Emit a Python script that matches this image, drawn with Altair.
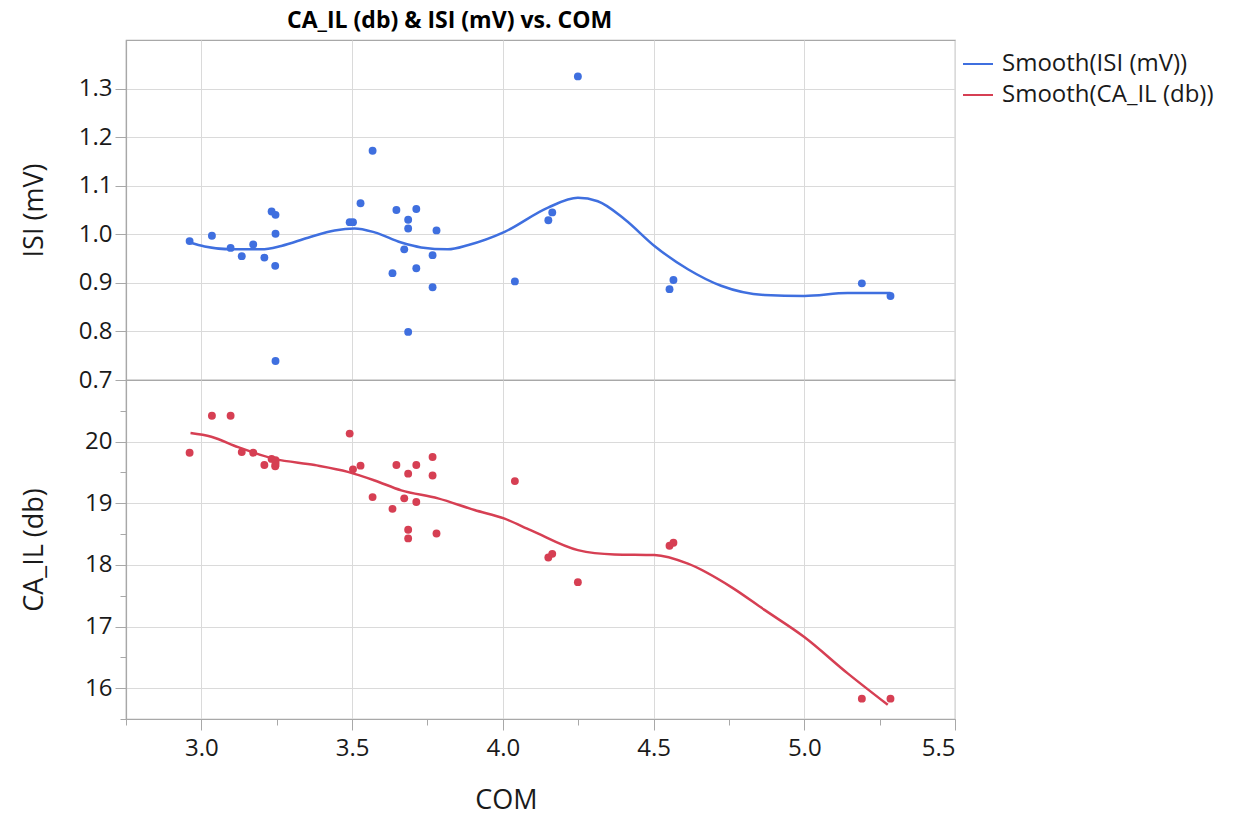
import altair as alt
import pandas as pd

# ---- data ----
com = [2.961, 3.035, 3.097, 3.134, 3.172, 3.209, 3.233, 3.246, 3.246, 3.245, 3.246,
       3.492, 3.503, 3.528, 3.568, 3.647, 3.634, 3.673, 3.686, 3.686, 3.686, 3.713,
       3.713, 3.767, 3.767, 3.780, 4.040, 4.151, 4.164, 4.249, 4.553, 4.566, 5.191, 5.286]
isi = [0.986, 0.997, 0.972, 0.955, 0.979, 0.952, 1.047, 1.040, 1.001, 0.935, 0.739,
       1.025, 1.025, 1.064, 1.172, 1.050, 0.920, 0.969, 1.030, 1.012, 0.799, 1.052,
       0.930, 0.957, 0.891, 1.008, 0.903, 1.029, 1.045, 1.325, 0.887, 0.906, 0.899, 0.873]
ca_il = [19.82, 20.42, 20.42, 19.83, 19.82, 19.62, 19.72, 19.70, 19.62, 19.60, 19.66,
         20.13, 19.55, 19.61, 19.10, 19.62, 18.91, 19.08, 19.48, 18.57, 18.43, 19.62,
         19.02, 19.75, 19.45, 18.51, 19.36, 18.12, 18.18, 17.72, 18.31, 18.36, 15.83, 15.83]

isi_smooth_x = [2.961, 3.011, 3.100, 3.199, 3.265, 3.354, 3.442, 3.508, 3.575, 3.663,
                3.729, 3.818, 3.886, 4.006, 4.150, 4.249, 4.315, 4.404, 4.503, 4.614,
                4.724, 4.868, 5.000, 5.144, 5.286]
isi_smooth_y = [0.983, 0.975, 0.969, 0.969, 0.976, 0.993, 1.008, 1.012, 1.004, 0.983,
                0.973, 0.969, 0.978, 1.005, 1.055, 1.075, 1.068, 1.031, 0.976, 0.928,
                0.894, 0.875, 0.873, 0.879, 0.879]

ca_smooth_x = [2.964, 3.033, 3.122, 3.243, 3.376, 3.486, 3.575, 3.663, 3.785, 3.906,
               4.006, 4.094, 4.249, 4.370, 4.503, 4.614, 4.758, 4.868, 5.000, 5.144, 5.277]
ca_smooth_y = [20.14, 20.08, 19.91, 19.72, 19.62, 19.51, 19.37, 19.21, 19.08, 18.89,
               18.75, 18.56, 18.24, 18.17, 18.16, 18.02, 17.64, 17.27, 16.83, 16.24, 15.73]

series_names = ["Smooth(ISI (mV))", "Smooth(CA_IL (db))"]
x_ticks_all = [2.75, 3.0, 3.25, 3.5, 3.75, 4.0, 4.25, 4.5, 4.75, 5.0, 5.25, 5.5]
x_ticks_major = [3.0, 3.5, 4.0, 4.5, 5.0, 5.5]
isi_ticks = [0.7, 0.8, 0.9, 1.0, 1.1, 1.2, 1.3]
ca_ticks = [15.5, 16, 16.5, 17, 17.5, 18, 18.5, 19, 19.5, 20, 20.5]

BLUE = "#3F6FDF"
RED = "#D63F53"
FONT = "Open Sans"
GRID = "#DADADA"
FRAME = "#A8A8A8"
TXT = "#1A1A1A"

pts = pd.DataFrame({"COM": com, "ISI": isi, "CA_IL": ca_il})
isi_line = pd.DataFrame({"COM": isi_smooth_x, "ISI": isi_smooth_y, "series": series_names[0]})
ca_line = pd.DataFrame({"COM": ca_smooth_x, "CA_IL": ca_smooth_y, "series": series_names[1]})

W = 829
xscale = alt.Scale(domain=[2.75, 5.5], nice=False, zero=False)
color = alt.Color("series:N",
                  scale=alt.Scale(domain=series_names, range=[BLUE, RED]),
                  legend=alt.Legend(title=None, orient="none", legendX=836, legendY=8,
                                    symbolType="stroke", symbolSize=900,
                                    symbolStrokeWidth=2, labelFontSize=24,
                                    labelFont=FONT, labelColor=TXT, rowPadding=3,
                                    labelOffset=8, padding=0, labelLimit=0))

x_top = alt.X("COM:Q", scale=xscale,
              axis=alt.Axis(values=x_ticks_major, labels=False, ticks=False, domain=False,
                            title=None, grid=True, gridColor=GRID, labelPadding=0,
                            minExtent=0, maxExtent=0))
y_top = alt.Y("ISI:Q", scale=alt.Scale(domain=[0.7, 1.4], nice=False, zero=False),
              axis=alt.Axis(values=isi_ticks, format=".1f", title="ISI (mV)",
                            titleX=-92, titleBaseline="middle", titleFontSize=27,
                            titleFontWeight="normal", grid=True, gridColor=GRID,
                            tickSize=11, labelPadding=3))

top_pts = alt.Chart(pts).mark_circle(size=62, opacity=1, color=BLUE).encode(x=x_top, y=y_top)
top_line = alt.Chart(isi_line).mark_line(strokeWidth=2.5, interpolate="monotone").encode(
    x=x_top, y=y_top, color=color)
top = alt.layer(top_pts, top_line).properties(width=W, height=340)

cond_x = "datum.value % 0.5 === 0"
x_bot = alt.X("COM:Q", scale=xscale,
              axis=alt.Axis(values=x_ticks_all, title="COM", titleFontSize=27,
                            titleFontWeight="normal",
                            labelExpr="datum.value % 0.5 === 0 ? format(datum.value, '.1f') : ''",
                            tickSize={"condition": {"test": cond_x, "value": 11}, "value": 6},
                            gridOpacity={"condition": {"test": cond_x, "value": 1}, "value": 0},
                            grid=True, gridColor=GRID, labelPadding=6,
                            titleX=380, titleY=81, titleBaseline="middle"))
cond_y = "datum.value % 1 === 0"
y_bot = alt.Y("CA_IL:Q", scale=alt.Scale(domain=[15.5, 21.0], nice=False, zero=False),
              axis=alt.Axis(values=ca_ticks, title="CA_IL (db)",
                            labelExpr="datum.value % 1 === 0 ? format(datum.value, 'd') : ''",
                            tickSize={"condition": {"test": cond_y, "value": 11}, "value": 6},
                            gridOpacity={"condition": {"test": cond_y, "value": 1}, "value": 0},
                            titleX=-92, titleBaseline="middle", titleFontSize=27,
                            titleFontWeight="normal", grid=True, gridColor=GRID,
                            labelPadding=3))

bot_pts = alt.Chart(pts).mark_circle(size=62, opacity=1, color=RED).encode(x=x_bot, y=y_bot)
bot_line = alt.Chart(ca_line).mark_line(strokeWidth=2.5, interpolate="monotone").encode(
    x=x_bot, y=y_bot, color=color)
bottom = alt.layer(bot_pts, bot_line).properties(width=W, height=339)

chart = alt.vconcat(top, bottom, spacing=0, bounds="flush").properties(
    title=alt.TitleParams("CA_IL (db) & ISI (mV) vs. COM", anchor="start", frame="group",
                          dx=161, fontSize=23, font=FONT, fontWeight="bold",
                          color="#000000", offset=6),
    padding={"left": 19, "top": 10, "right": 5, "bottom": 32},
).configure_axis(
    labelFont=FONT, titleFont=FONT, labelFontSize=24, labelColor=TXT, titleColor=TXT,
    domainColor=FRAME, tickColor=FRAME, domainWidth=1.2,
).configure_view(stroke=FRAME, strokeWidth=1.2).configure_concat(spacing=0)

chart.save("out.html", embed_options={"renderer": "svg", "actions": False})
